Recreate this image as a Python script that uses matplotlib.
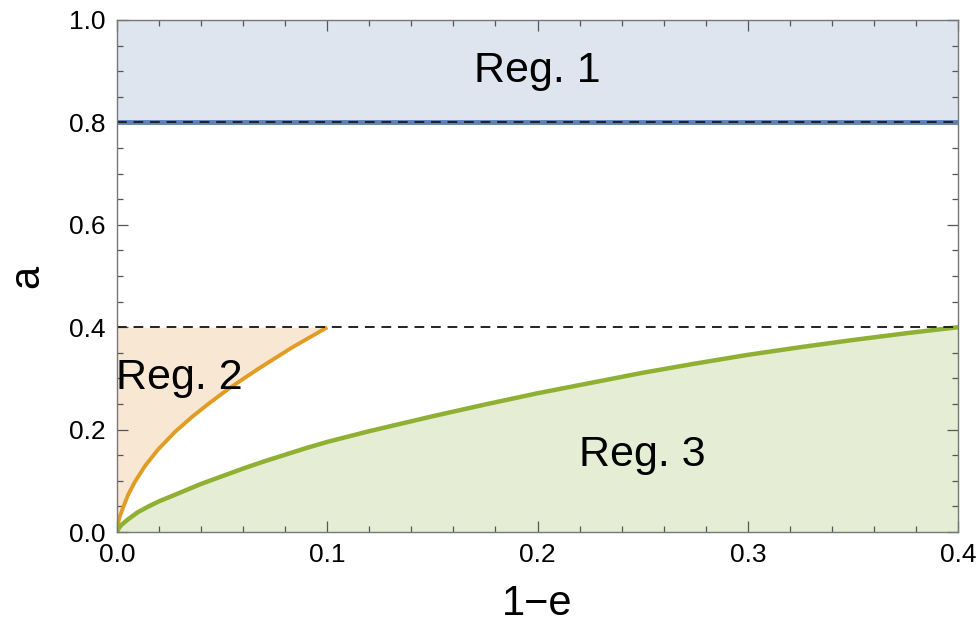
import matplotlib
matplotlib.use("Agg")
import matplotlib.pyplot as plt
from matplotlib.ticker import MultipleLocator

plt.rcParams['font.family'] = ['Liberation Sans', 'DejaVu Sans']

# Data
orange_x = [0.0, 0.0005, 0.0013, 0.0029, 0.0053, 0.0085, 0.0133, 0.0197, 0.0277,
            0.0357, 0.0437, 0.0525, 0.0600, 0.0673, 0.0750, 0.0835, 0.0920, 0.1]
orange_a = [0.0, 0.017, 0.030, 0.048, 0.073, 0.098, 0.129, 0.162, 0.196,
            0.225, 0.251, 0.278, 0.299, 0.319, 0.339, 0.361, 0.381, 0.4]

green_x = [0.0, 0.0008, 0.0021, 0.0053, 0.01, 0.015, 0.02, 0.0277, 0.04, 0.05, 0.06,
           0.07, 0.08, 0.09, 0.1, 0.12, 0.15, 0.175, 0.2, 0.225, 0.25, 0.275,
           0.3, 0.325, 0.35, 0.375, 0.4]
green_a = [0.0, 0.007, 0.014, 0.025, 0.039, 0.050, 0.060, 0.073, 0.094, 0.109, 0.124,
           0.138, 0.151, 0.164, 0.176, 0.197, 0.226, 0.249, 0.271, 0.291, 0.311, 0.329,
           0.346, 0.361, 0.375, 0.388, 0.4]

reg1_bounds = [0.8, 1.0]
dashed_levels = [0.8, 0.4]
x_limits = [0.0, 0.4]
y_limits = [0.0, 1.0]
x_ticks = [0.0, 0.1, 0.2, 0.3, 0.4]
y_ticks = [0.0, 0.2, 0.4, 0.6, 0.8, 1.0]
region_labels = ["Reg. 1", "Reg. 2", "Reg. 3"]
region_pos = [(0.2, 0.9), (0.0295, 0.30), (0.25, 0.15)]

blue = "#5e81b5"
orange = "#e19c24"
green = "#8fb032"

fig = plt.figure(figsize=(9.8, 6.38), dpi=100)
ax = fig.add_axes([0.1194, 0.1661, 0.8582, 0.8026])

# Region 1
ax.axhspan(reg1_bounds[0], reg1_bounds[1], color="#dfe5ef", lw=0, zorder=1)
ax.axhline(reg1_bounds[0], color=blue, lw=3.5, zorder=2)

# Region 2 (left of orange curve, below 0.4)
ax.fill_betweenx(orange_a, 0, orange_x, color="#f8e8d3", lw=0, zorder=1)
ax.plot(orange_x, orange_a, color=orange, lw=2.8, zorder=3, solid_capstyle='butt',
        solid_joinstyle='round')

# Region 3 (under green curve)
ax.fill_between(green_x, 0, green_a, color="#e6edd5", lw=0, zorder=1)
ax.plot(green_x, green_a, color=green, lw=3.2, zorder=3, solid_joinstyle='round')

for lv in dashed_levels:
    ax.axhline(lv, color="#222222", lw=1.4, ls=(0, (5, 3.5)), zorder=4)

for lab, (px, py) in zip(region_labels, region_pos):
    ax.text(px, py, lab, fontsize=31, ha="center", va="center", zorder=5)

ax.set_xlim(*x_limits)
ax.set_ylim(*y_limits)
ax.set_xticks(x_ticks)
ax.set_yticks(y_ticks)
ax.set_xticklabels([f"{v:.1f}" for v in x_ticks])
ax.set_yticklabels([f"{v:.1f}" for v in y_ticks])
ax.xaxis.set_minor_locator(MultipleLocator(0.02))
ax.yaxis.set_minor_locator(MultipleLocator(0.05))
ax.tick_params(which="both", direction="in", top=True, right=True, color="#555555", width=0.9)
ax.tick_params(which="major", length=8, labelsize=19, pad=8)
ax.tick_params(which="minor", length=4.5)
for s in ax.spines.values():
    s.set_color("#777777")
    s.set_linewidth(1.0)
    s.set_zorder(6)

ax.set_xlabel("1\u2212e", fontsize=30, labelpad=12)
ax.set_ylabel("a", fontsize=30, labelpad=16)

fig.savefig("out.png", dpi=100)
